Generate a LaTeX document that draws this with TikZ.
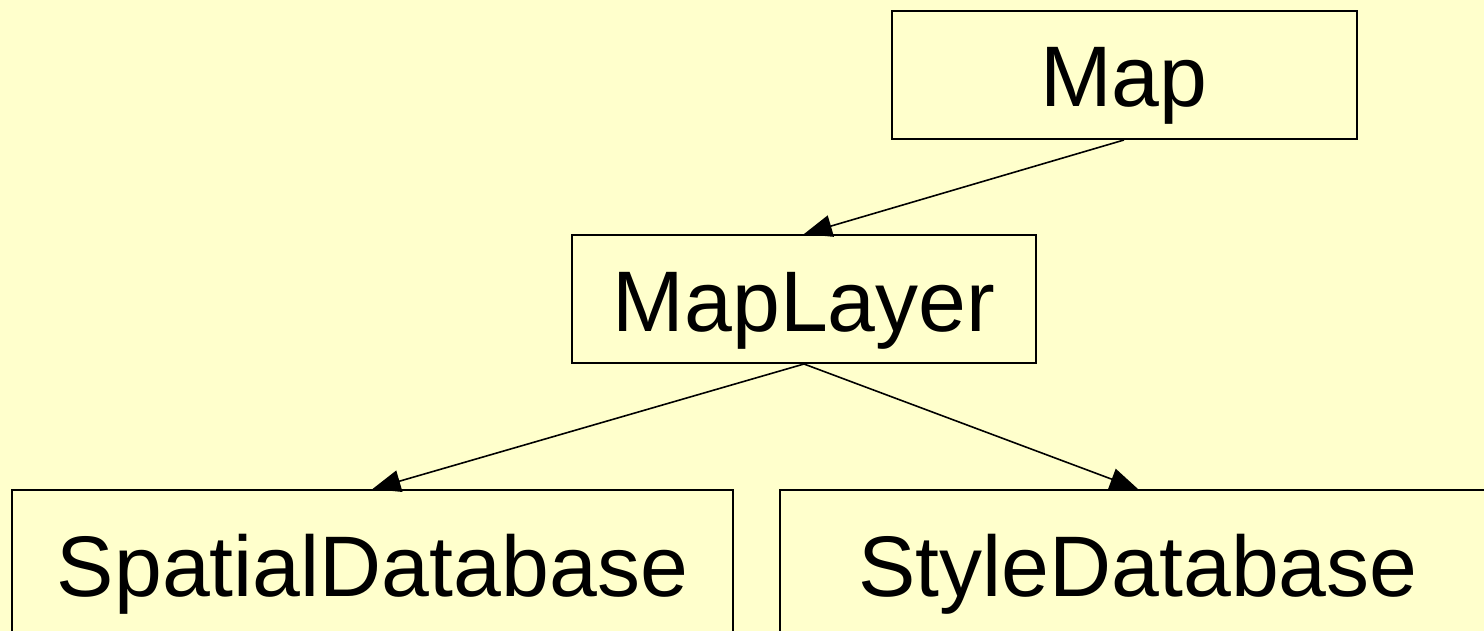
\documentclass[tikz,border=0pt]{standalone}
\usepackage{fontspec}
\setmainfont{Liberation Sans}
\usepackage{xcolor}
\usepackage{tikz}
\usetikzlibrary{arrows.meta, positioning}
\definecolor{paper}{HTML}{FFFFCC}

\begin{document}
\begin{tikzpicture}[
  x=0.5pt, y=-0.5pt,
  classbox/.style={draw, line width=1pt, fill=paper, inner xsep=0pt, inner ysep=0pt,
    font=\fontsize{43}{50}\selectfont, text height=48pt, text depth=16pt},
  leafbox/.style={classbox, text height=53pt, text depth=40pt},
  arr/.style={-{Triangle[length=14pt, width=11pt]}, line width=0.8pt}
]
\fill[paper] (0,0) rectangle (1484,631);
\useasboundingbox (0,0) rectangle (1484,631);
\clip (0,0) rectangle (1484,631);

\node[classbox, minimum width=232.5pt, anchor=north] (map) at (1124,10) {Map};
\node[classbox, minimum width=232pt, anchor=north] (layer) at (804,234) {MapLayer};
\node[leafbox, minimum width=360.5pt, anchor=north] (spatial) at (372.5,489) {SpatialDatabase};
\node[leafbox, minimum width=358pt, anchor=north] (styledb) at (1138,489) {StyleDatabase};

\draw[arr] (map.south) -- (layer.north);
\draw[arr] (layer.south) -- (spatial.north);
\draw[arr] (layer.south) -- (styledb.north);
\end{tikzpicture}
\end{document}
